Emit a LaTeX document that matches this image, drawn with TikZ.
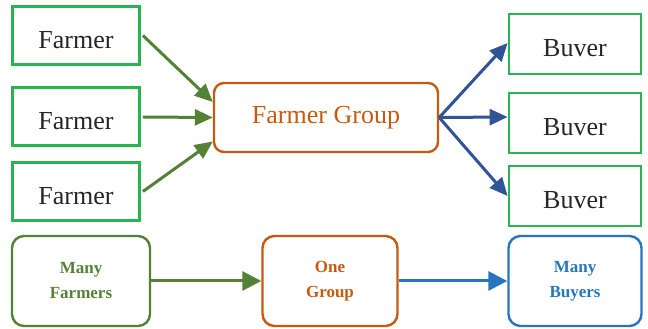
\documentclass[tikz,border=0pt]{standalone}
\usepackage{fontspec}
\setmainfont{Liberation Serif}
\usetikzlibrary{arrows.meta}
\definecolor{bgreen}{RGB}{40,180,80}
\definecolor{agreen}{RGB}{84,130,53}
\definecolor{orng}{RGB}{197,90,17}
\definecolor{dblue}{RGB}{47,85,151}
\definecolor{lblue}{RGB}{40,117,190}
\newcommand{\lowtxt}[1]{\raisebox{-4pt}[18pt][0pt]{#1}}
\begin{document}
\begin{tikzpicture}[x=1pt,y=1pt,
  sqbox/.style={draw=bgreen,line width=2.8pt,minimum width=127pt,minimum height=58pt,inner sep=0pt,font=\fontsize{26}{28}\selectfont,text=black!85},
  rbox/.style={rounded corners=12pt,line width=2.4pt,inner sep=0pt,align=center,font=\fontsize{17}{25}\selectfont\bfseries},
  tip/.style={-{Triangle[length=18pt,width=16pt]}},
  bigtip/.style={-{Triangle[length=19pt,width=19pt]}},
  garrow/.style={draw=agreen,line width=3pt,tip},
  barrow/.style={draw=dblue,line width=3pt,tip}]
\useasboundingbox (0,0) rectangle (648,329);
\node[sqbox] (f1) at (76,293.5) {\lowtxt{Farmer}};
\node[sqbox] (f2) at (76,212.5) {\lowtxt{Farmer}};
\node[sqbox] (f3) at (76,137.5) {\lowtxt{Farmer}};
\node[draw=orng,rounded corners=10pt,line width=2.4pt,minimum width=224pt,minimum height=69pt,inner sep=0pt,text=orng,font=\fontsize{26}{28}\selectfont] (g) at (326,211.5) {Farmer Group};
\node[sqbox,minimum width=132pt,minimum height=60pt] (b1) at (575,285) {\lowtxt{Buver}};
\node[sqbox,minimum width=132pt,minimum height=60pt] (b2) at (575,206) {\lowtxt{Buver}};
\node[sqbox,minimum width=132pt,minimum height=60pt] (b3) at (575,133) {\lowtxt{Buver}};
\node[rbox,draw=agreen,text=agreen,minimum width=138pt,minimum height=90pt] (mf) at (81,48) {Many\\Farmers};
\node[rbox,draw=orng,text=orng,minimum width=135pt,minimum height=90pt] (og) at (330,48) {One\\Group};
\node[rbox,draw=lblue,text=lblue,minimum width=133pt,minimum height=90pt] (mb) at (575,48) {Many\\Buyers};
\draw[garrow] ([xshift=2pt]f1.east) -- ([yshift=15.5pt]g.west);
\draw[garrow] ([xshift=2pt,yshift=-0.5pt]f2.east) -- ([yshift=0pt]g.west);
\draw[garrow] ([xshift=2pt]f3.east) -- ([yshift=-24pt]g.west);
\draw[barrow] (g.east) -- ([yshift=1pt]b1.west);
\draw[barrow] (g.east) -- ([yshift=6pt]b2.west);
\draw[barrow] (g.east) -- ([yshift=0pt]b3.west);
\draw[draw=agreen,line width=3pt,bigtip] (mf.east) -- (og.west);
\draw[draw=lblue,line width=3pt,bigtip] (og.east) -- (mb.west);
\end{tikzpicture}
\end{document}
